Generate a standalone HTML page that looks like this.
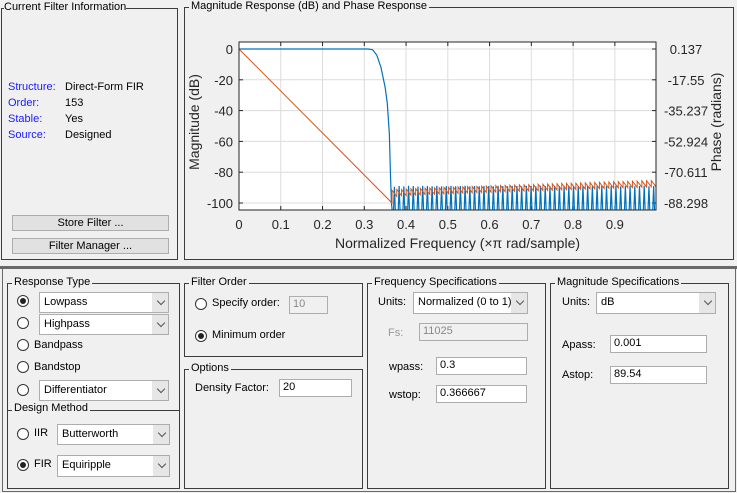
<!DOCTYPE html>
<html><head><meta charset="utf-8">
<style>
body{margin:0;width:737px;height:493px;background:#f0f0f0;font-family:"Liberation Sans",sans-serif;font-size:11px;color:#000;position:relative;overflow:hidden}
.a{position:absolute}
.frame{position:absolute;border:1px solid #3c3c3c}
.ttl{position:absolute;background:#f0f0f0;padding:0 2px;font-size:11px;top:-8px;left:4px;white-space:nowrap}
.dd{position:absolute;background:#fff;border:1px solid #adadad;box-sizing:border-box;padding-left:4px;line-height:19px;font-size:11px}
.dd::after{content:"";position:absolute;right:0;top:0;bottom:0;width:16px;background:#e6e6e6}
.dd i{position:absolute;right:4px;top:5px;width:5px;height:5px;border-right:1px solid #555;border-bottom:1px solid #555;transform:rotate(45deg);z-index:1}
.in{position:absolute;background:#fff;border:1px solid #adadad;box-sizing:border-box;padding-left:3px;line-height:15px;font-size:11px}
.rb{position:absolute;width:12px;height:12px;border:1px solid #333;border-radius:50%;background:#fff;box-sizing:border-box}
.rb.on::after{content:"";position:absolute;left:2px;top:2px;width:6px;height:6px;border-radius:50%;background:#222}
.lbl{position:absolute;white-space:nowrap;font-size:11px}
.btn{position:absolute;background:#e1e1e1;border:1px solid #adadad;box-sizing:border-box;text-align:center;line-height:14px;font-size:11px}
.blue{color:#1a1aff}
</style></head><body>

<div class="frame" style="left:1px;top:8px;width:175px;height:250px"><span class="ttl" style="left:2px;padding:0">Current Filter Information</span></div>
<div class="lbl blue" style="left:8px;top:81px">Structure:</div>
<div class="lbl" style="left:65px;top:81px">Direct-Form FIR</div>
<div class="lbl blue" style="left:8px;top:97px">Order:</div>
<div class="lbl" style="left:65px;top:97px">153</div>
<div class="lbl blue" style="left:8px;top:113px">Stable:</div>
<div class="lbl" style="left:65px;top:113px">Yes</div>
<div class="lbl blue" style="left:8px;top:129px">Source:</div>
<div class="lbl" style="left:65px;top:129px">Designed</div>
<div class="btn" style="left:12px;top:215px;width:157px;height:16px">Store Filter ...</div>
<div class="btn" style="left:12px;top:238px;width:157px;height:16px">Filter Manager ...</div>

<div class="frame" style="left:184px;top:7px;width:548px;height:251px"><span class="ttl">Magnitude Response (dB) and Phase Response</span></div>

<svg class="a" style="left:0;top:0" width="737" height="260">
<g id="chart"></g>
</svg>

<div class="a" style="left:0;top:266px;width:737px;height:3px;background:#696969"></div>
<div class="frame" style="left:2px;top:268px;width:732px;height:223px;border-color:#696969;border-top:none"></div>

<div class="frame" style="left:7px;top:283px;width:171px;height:204px"><span class="ttl">Response Type</span></div>
<div class="a" style="left:7px;top:410px;width:172px;height:1px;background:#3c3c3c"></div>
<div class="lbl" style="left:12px;top:402px;background:#f0f0f0;padding:0 2px">Design Method</div>
<div class="rb on" style="left:17px;top:295px"></div>
<div class="dd" style="left:39px;top:292px;width:130px;height:21px">Lowpass<i></i></div>
<div class="rb" style="left:17px;top:317px"></div>
<div class="dd" style="left:39px;top:314px;width:130px;height:21px">Highpass<i></i></div>
<div class="rb" style="left:17px;top:339px"></div>
<div class="lbl" style="left:34px;top:339px">Bandpass</div>
<div class="rb" style="left:17px;top:361px"></div>
<div class="lbl" style="left:34px;top:361px">Bandstop</div>
<div class="rb" style="left:17px;top:384px"></div>
<div class="dd" style="left:39px;top:380px;width:130px;height:21px">Differentiator<i></i></div>
<div class="rb" style="left:17px;top:428px"></div>
<div class="lbl" style="left:34px;top:427px">IIR</div>
<div class="dd" style="left:57px;top:424px;width:113px;height:21px">Butterworth<i></i></div>
<div class="rb on" style="left:17px;top:459px"></div>
<div class="lbl" style="left:34px;top:458px">FIR</div>
<div class="dd" style="left:57px;top:455px;width:113px;height:22px">Equiripple<i></i></div>

<div class="frame" style="left:184px;top:283px;width:177px;height:72px"><span class="ttl">Filter Order</span></div>
<div class="rb" style="left:195px;top:298px"></div>
<div class="lbl" style="left:212px;top:297px">Specify order:</div>
<div class="in" style="left:289px;top:296px;width:39px;height:18px;background:#f0f0f0;color:#888">10</div>
<div class="rb on" style="left:195px;top:330px"></div>
<div class="lbl" style="left:212px;top:329px">Minimum order</div>

<div class="frame" style="left:184px;top:369px;width:177px;height:118px"><span class="ttl">Options</span></div>
<div class="lbl" style="left:195px;top:382px">Density Factor:</div>
<div class="in" style="left:279px;top:379px;width:73px;height:18px">20</div>

<div class="frame" style="left:367px;top:283px;width:177px;height:204px"><span class="ttl">Frequency Specifications</span></div>
<div class="lbl" style="left:378px;top:296px">Units:</div>
<div class="dd" style="left:413px;top:292px;width:115px;height:22px">Normalized (0 to 1)<i></i></div>
<div class="lbl" style="left:388px;top:327px;color:#999">Fs:</div>
<div class="in" style="left:419px;top:323px;width:109px;height:18px;background:#f0f0f0;color:#888">11025</div>
<div class="lbl" style="left:389px;top:361px">wpass:</div>
<div class="in" style="left:436px;top:357px;width:91px;height:18px">0.3</div>
<div class="lbl" style="left:389px;top:389px">wstop:</div>
<div class="in" style="left:436px;top:385px;width:91px;height:18px">0.366667</div>

<div class="frame" style="left:550px;top:283px;width:177px;height:204px"><span class="ttl">Magnitude Specifications</span></div>
<div class="lbl" style="left:562px;top:296px">Units:</div>
<div class="dd" style="left:596px;top:292px;width:120px;height:22px">dB<i></i></div>
<div class="lbl" style="left:562px;top:339px">Apass:</div>
<div class="in" style="left:610px;top:335px;width:97px;height:18px">0.001</div>
<div class="lbl" style="left:562px;top:369px">Astop:</div>
<div class="in" style="left:610px;top:366px;width:97px;height:18px">89.54</div>

<script>
const xTicks=[0,0.1,0.2,0.3,0.4,0.5,0.6,0.7,0.8,0.9];
const magTicks=[0,-20,-40,-60,-80,-100];
const phaseTickLabels=["0.137","-17.55","-35.237","-52.924","-70.611","-88.298"];
const phaseTickValues=[0.137,-17.55,-35.237,-52.924,-70.611,-88.298];
const passFreq=[0,0.30,0.31,0.32,0.33,0.34,0.35,0.355,0.36,0.3625,0.365,0.3665];
const passMag=[0,0,0,-0.5,-4,-12,-25,-35,-55,-80,-100,-104];
const stopStart=0.3665, stopEnd=0.9985;
const lobePeaks=[-89.5,-89,-89.2,-88.8,-89,-89.3,-88.9,-89,-89.1,-88.8,-89.2,-89,-88.9,-89.1,-89,-88.8,-89.2,-89,-89.1,-88.9,-89,-89.2,-88.8,-89,-89.1,-88.9,-89,-89.2,-88.9,-89,-89.1,-88.8,-89,-89.2,-88.9,-89,-89.1,-89,-88.8,-89.2,-89,-88.9,-89.1,-89,-88.8,-89.1,-89,-88.9,-89.2,-89,-88.9,-89.1,-89,-88.8,-89.1,-89];
const phaseLinFreq=[0,0.3665];
const phaseLinVal=[0.137,-88.298];
const lobePhaseTop=[-81,-80.5,-80.6,-80.3,-80.2,-80.1,-79.9,-79.8,-79.7,-79.6,-79.5,-79.4,-79.3,-79.2,-79.1,-79,-78.9,-78.8,-78.8,-78.7,-78.6,-78.5,-78.4,-78.3,-78.2,-78.1,-78,-77.9,-77.9,-77.8,-77.7,-77.6,-77.5,-77.4,-77.3,-77.2,-77.1,-77,-77,-76.9,-76.8,-76.7,-76.6,-76.5,-76.4,-76.3,-76.2,-76.1,-76,-76,-75.9,-75.8,-75.7,-75.6,-75.5,-75.4];
const lobePhaseDrop=[3.5];

const L=239,R=656,T=42,B=210;
const xS=f=>L+f*(R-L)/0.9985;
const yM=m=>49+(-m)*1.54;
const yP=p=>49+(0.137-p)*(154/88.435);
const NS="http://www.w3.org/2000/svg";
const g=document.getElementById('chart');
function el(t,a,p){const e=document.createElementNS(NS,t);for(const k in a)e.setAttribute(k,a[k]);(p||g).appendChild(e);return e;}
const defs=el('defs',{});
const cp=el('clipPath',{id:'pc'},defs);el('rect',{x:L,y:T,width:R-L,height:B-T},cp);
const bg=el('rect',{x:L,y:T,width:R-L,height:B-T,fill:'#fff'});


xTicks.forEach(v=>{
  el('line',{x1:xS(v),x2:xS(v),y1:T,y2:B,stroke:'#dcdcdc','stroke-width':1});
  el('line',{x1:xS(v),x2:xS(v),y1:B,y2:B-4,stroke:'#262626'});
  el('line',{x1:xS(v),x2:xS(v),y1:T,y2:T+4,stroke:'#262626'});
  const t=el('text',{x:xS(v),y:B+19,'text-anchor':'middle','font-size':13,fill:'#262626'});t.textContent=String(v);
  
  
});
magTicks.forEach(v=>{
  el('line',{x1:L,x2:R,y1:yM(v),y2:yM(v),stroke:'#dcdcdc'});
  el('line',{x1:L,x2:L+4,y1:yM(v),y2:yM(v),stroke:'#262626'});
  const t=el('text',{x:L-6,y:yM(v)+5,'text-anchor':'end','font-size':13,fill:'#262626'});t.textContent=String(v);
  
  
});
phaseTickValues.forEach((v,i)=>{
  el('line',{x1:R-4,x2:R,y1:yP(v),y2:yP(v),stroke:'#262626'});
  const t=el('text',{x:R+30,y:yP(v)+5,'text-anchor':'middle','font-size':13,fill:'#262626'});t.textContent=phaseTickLabels[i];
  
  
});
let pd='M'+xS(phaseLinFreq[0])+','+yP(phaseLinVal[0])+' L'+xS(phaseLinFreq[1])+','+yP(phaseLinVal[1]);
const lw=(stopEnd-stopStart)/lobePeaks.length;
lobePhaseTop.forEach((p,i)=>{const f0=stopStart+i*lw;pd+=' L'+xS(f0)+','+yP(p)+' L'+xS(f0+lw)+','+yP(p-lobePhaseDrop[0]);});
let md='M'+xS(passFreq[0])+','+yM(passMag[0]);
passFreq.forEach((f,i)=>{md+=' L'+xS(f)+','+yM(passMag[i]);});
md+=' L'+xS(stopStart)+','+yM(-130);
lobePeaks.forEach((p,i)=>{const f0=stopStart+i*lw;md+=' L'+xS(f0+lw*0.5)+','+yM(p)+' L'+xS(f0+lw)+','+yM(-130);});
const mg=el('g',{'clip-path':'url(#pc)'});
const mp=el('path',{d:md,fill:'none',stroke:'#0072bd','stroke-width':1.2},mg);


const pp=el('path',{d:pd,fill:'none',stroke:'#d95319','stroke-width':1},mg);


el('rect',{x:L,y:T,width:R-L,height:B-T,fill:'none',stroke:'#262626','stroke-width':1});
const xt=el('text',{x:(L+R)/2+10,y:B+38,'text-anchor':'middle','font-size':14,fill:'#262626'});xt.textContent='Normalized Frequency (\u00d7\u03c0 rad/sample)';


const yt=el('text',{x:0,y:0,'text-anchor':'middle','font-size':14,fill:'#262626',transform:'translate(199,'+((T+B)/2-4)+') rotate(-90)'});yt.textContent='Magnitude (dB)';


const pt=el('text',{x:0,y:0,'text-anchor':'middle','font-size':14,fill:'#262626',transform:'translate(721,'+((T+B)/2-4)+') rotate(-90)'});pt.textContent='Phase (radians)';


</script>
</body></html>
